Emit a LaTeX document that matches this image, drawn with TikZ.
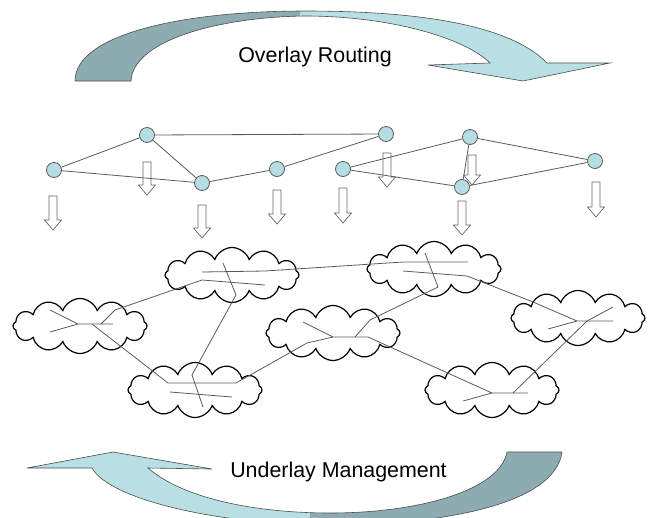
\documentclass[tikz,border=0pt]{standalone}
\usepackage{fontspec}
\setmainfont{Liberation Sans}
\usetikzlibrary{shapes.symbols}
\definecolor{bandDark}{RGB}{141,172,177}
\definecolor{bandLight}{RGB}{183,223,228}
\definecolor{nodeFill}{RGB}{180,222,226}
\definecolor{lineGray}{RGB}{90,90,90}
\tikzset{
  ovnode/.style={circle,draw=lineGray,fill=nodeFill,line width=0.8pt,minimum size=15pt,inner sep=0pt},
  ovedge/.style={draw=lineGray,line width=0.8pt},
  rtline/.style={draw=lineGray,line width=0.8pt},
  cloudnode/.style={cloud,draw=black,line width=1.2pt,cloud puffs=12,cloud puff arc=140,minimum width=134pt,minimum height=55pt,inner sep=0pt,aspect=2.4},
  bandline/.style={draw=black!70,line width=0.6pt},
  arrline/.style={draw=black!60,line width=0.7pt},
  bigtext/.style={font=\fontsize{21.4}{24}\selectfont,text=black},
  pics/darr/.style={code={
    \draw[arrline] (-4,0) -- (-4,#1-10) -- (-8.5,#1-10) -- (0,#1) -- (8.5,#1-10) -- (4,#1-10) -- (4,0) -- cycle;}}
}
\begin{document}
\begin{tikzpicture}[x=1pt,y=-1pt]
\useasboundingbox (0,0) rectangle (652,517);
% ---------- top band arrow ----------
\def\toppath{(75,81) -- (131,81) .. controls (133,40) and (220,17) .. (305,16) .. controls (390,16) and (465,38) .. (490,63) -- (428,65) -- (523,81) -- (610,63) -- (547,63) .. controls (510,25) and (420,11) .. (305,11) .. controls (180,11) and (75,35) .. (75,81) -- cycle}
\begin{scope}
  \clip (0,0) rectangle (300,100);
  \fill[bandDark] \toppath;
\end{scope}
\begin{scope}
  \clip (300,0) rectangle (652,100);
  \fill[bandLight] \toppath;
\end{scope}
\draw[bandline] \toppath;
\node[bigtext] (overlay) at (315,57) {Overlay Routing};
% ---------- bottom band arrow ----------
\def\botpath{(27,468) -- (113,452) -- (212,469) -- (148,468) .. controls (185,500) and (260,513) .. (330,513) .. controls (420,513) and (500,490) .. (507,452) -- (562,452) .. controls (555,505) and (440,525) .. (330,525) .. controls (220,525) and (110,500) .. (92,468) -- cycle}
\begin{scope}
  \clip (0,0) rectangle (652,517);
  \begin{scope}
    \clip (0,430) rectangle (310,530);
    \fill[bandLight] \botpath;
  \end{scope}
  \begin{scope}
    \clip (310,430) rectangle (652,530);
    \fill[bandDark] \botpath;
  \end{scope}
  \draw[bandline] \botpath;
\end{scope}
\node[bigtext] (underlay) at (338.5,472) {Underlay Management};
% ---------- hollow down arrows ----------
\pic at (53,196) {darr=34};
\pic at (147,162) {darr=33};
\pic at (202,205) {darr=33};
\pic at (277,190) {darr=34};
\pic at (387,153) {darr=34};
\pic at (343,188) {darr=35};
\pic at (472,155) {darr=30};
\pic at (462,201) {darr=34};
\pic at (596,182) {darr=35};
% ---------- overlay graph ----------
\node[ovnode] (A) at (54,170) {};
\node[ovnode] (B) at (147,135) {};
\node[ovnode] (C) at (202,183) {};
\node[ovnode] (D) at (277,169) {};
\node[ovnode] (E) at (386,134) {};
\node[ovnode] (F) at (343,169) {};
\node[ovnode] (G) at (470,137) {};
\node[ovnode] (H) at (462,187) {};
\node[ovnode] (I) at (595,161) {};
\draw[ovedge] (A) -- (B);
\draw[ovedge] (A) -- (C);
\draw[ovedge] (B) -- (C);
\draw[ovedge] (B) -- (E);
\draw[ovedge] (C) -- (D);
\draw[ovedge] (D) -- (E);
\draw[ovedge] (F) -- (G);
\draw[ovedge] (F) -- (H);
\draw[ovedge] (G) -- (H);
\draw[ovedge] (G) -- (I);
\draw[ovedge] (H) -- (I);
% ---------- clouds ----------
\node[cloudnode] (c1) at (232,275) {};
\node[cloudnode] (c2) at (80,326) {};
\node[cloudnode] (c3) at (195,390) {};
\node[cloudnode] (c4) at (434,269) {};
\node[cloudnode] (c5) at (333,333) {};
\node[cloudnode] (c6) at (578,318) {};
\node[cloudnode] (c7) at (492,390) {};
% ---------- underlay router lines ----------
% cloud 1
\coordinate (p1a) at (202,272);
\coordinate (p1b) at (265,271);
\coordinate (p1c) at (202,280);
\coordinate (p1d) at (265,285);
\coordinate (p1e) at (223,263);
\coordinate (p1f) at (236,295);
% cloud 2
\coordinate (p2a) at (50,310);
\coordinate (p2b) at (50,332);
\coordinate (p2c) at (78,324);
\coordinate (p2d) at (113,324);
\coordinate (p2e) at (101,324);
\coordinate (p2f) at (92,324);
\coordinate (p2k) at (115,310);
% cloud 3
\coordinate (p3a) at (168,383);
\coordinate (p3b) at (236,383);
\coordinate (p3c) at (170,392);
\coordinate (p3d) at (232,397);
\coordinate (p3e) at (192,375);
\coordinate (p3f) at (203,407);
% cloud 4
\coordinate (p4a) at (403,262);
\coordinate (p4b) at (468,262);
\coordinate (p4c) at (403,271);
\coordinate (p4d) at (467,276);
\coordinate (p4e) at (425,253);
\coordinate (p4f) at (438,287);
\coordinate (p4k) at (533,302);
% cloud 5
\coordinate (p5a) at (303,322);
\coordinate (p5b) at (333,337);
\coordinate (p5c) at (368,337);
\coordinate (p5d) at (355,337);
\coordinate (p5e) at (307,343);
\coordinate (p5k) at (370,320);
% cloud 6
\coordinate (p6a) at (577,321);
\coordinate (p6b) at (613,321);
\coordinate (p6c) at (548,329);
\coordinate (p6d) at (613,307);
\coordinate (p6e) at (587,321);
% cloud 7
\coordinate (p7a) at (492,393);
\coordinate (p7b) at (528,393);
\coordinate (p7c) at (463,401);
\coordinate (p7d) at (513,393);
% lines
\draw[rtline] (p1a) -- (p1b) -- (p4a) -- (p4b);
\draw[rtline] (p1d) -- (p1c) -- (p2k) -- (p2e);
\draw[rtline] (p1e) -- (p1f) -- (p3e) -- (p3f);
\draw[rtline] (p2a) -- (p2c) -- (p2d);
\draw[rtline] (p2b) -- (p2c);
\draw[rtline] (p2f) -- (p3a) -- (p3b) -- (p5e) -- (p5b) -- (p5c) -- (p7a) -- (p7b);
\draw[rtline] (p3c) -- (p3d);
\draw[rtline] (p5a) -- (p5b);
\draw[rtline] (p5d) -- (p5k) -- (p4f) -- (p4e);
\draw[rtline] (p4c) -- (p4d) -- (p4k) -- (p6a) -- (p6b);
\draw[rtline] (p6c) -- (p6a);
\draw[rtline] (p6d) -- (p6e) -- (p7d);
\draw[rtline] (p7c) -- (p7a);
\end{tikzpicture}
\end{document}
